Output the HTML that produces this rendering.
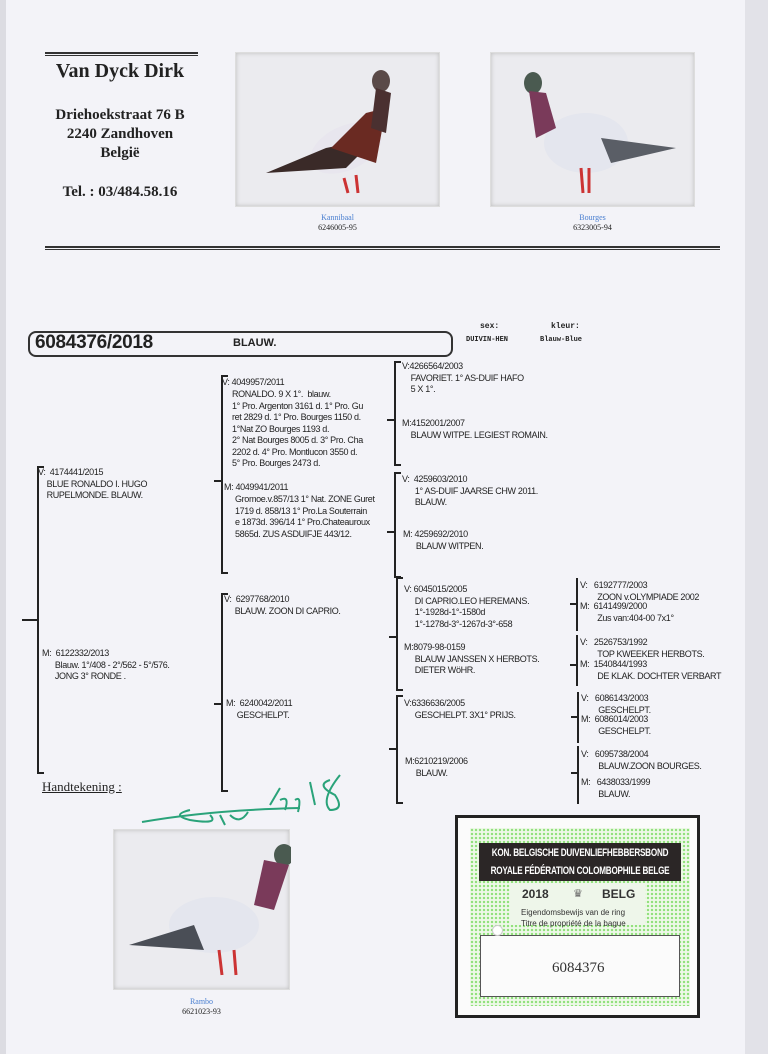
<!DOCTYPE html>
<html><head><meta charset="utf-8"><style>
*{margin:0;padding:0;box-sizing:border-box}
body{width:768px;height:1054px;background:#f3f3f8;position:relative;overflow:hidden;font-family:"Liberation Sans",Arial,sans-serif;color:#222}
.a{position:absolute;white-space:nowrap}
.t{font-size:9px;line-height:11.5px;letter-spacing:-0.35px}
.br{position:absolute;border-left:2px solid #222;border-top:2px solid #222;border-bottom:2px solid #222;width:7px}
.br4{position:absolute;border-left:2px solid #222;width:2px}
.tk{position:absolute;height:2px;background:#222}
.serif{font-family:"Liberation Serif","Times New Roman",serif;font-weight:bold;text-align:center}
.photo{position:absolute;background:#ebebef;box-shadow:0 0 4px #bbb inset;border:1px solid #ddd}
.cap{font-family:"Liberation Serif",serif;font-size:8px;text-align:center;position:absolute;line-height:10px}
</style></head><body>
<div class="a" style="left:0;top:0;width:6px;height:1054px;background:#dcdce2"></div>
<div class="a" style="left:745px;top:0;width:23px;height:1054px;background:#e2e2e8"></div>

<!-- header -->
<div class="a" style="left:45px;top:52px;width:153px;height:4px;border-top:2px solid #333;border-bottom:1px solid #333"></div>
<div class="a serif" style="left:30px;top:60px;width:180px;font-size:20px">Van Dyck Dirk</div>
<div class="a serif" style="left:30px;top:106px;width:180px;font-size:15px;line-height:19px">Driehoekstraat 76 B<br>2240 Zandhoven<br>België</div>
<div class="a serif" style="left:30px;top:184px;width:180px;font-size:15px">Tel. : 03/484.58.16</div>
<div class="a" style="left:45px;top:246px;width:675px;height:4px;border-top:2px solid #333;border-bottom:1px solid #333"></div>

<div class="photo" style="left:235px;top:52px;width:205px;height:155px">
<svg width="205" height="155"><ellipse cx="110" cy="95" rx="38" ry="22" fill="#e8e6ee" transform="rotate(-25 110 95)"/><path d="M30 120 L90 95 L140 85 L110 115 Z" fill="#3a2a28"/><path d="M95 95 L130 60 L150 55 L140 110Z" fill="#6a2a22"/><ellipse cx="145" cy="28" rx="9" ry="11" fill="#5a4a48"/><path d="M140 35 L155 40 L150 80 L135 75Z" fill="#4a3030"/><path d="M108 125 L112 140 M120 122 L122 140" stroke="#c33" stroke-width="3"/></svg></div>
<div class="cap" style="left:235px;top:213px;width:205px"><span style="color:#4a7fd0">Kannibaal</span><br>6246005-95</div>
<div class="photo" style="left:490px;top:52px;width:205px;height:155px">
<svg width="205" height="155"><ellipse cx="95" cy="90" rx="42" ry="30" fill="#e4e6ee"/><path d="M110 85 L185 95 L120 110Z" fill="#5a5e66"/><ellipse cx="42" cy="30" rx="9" ry="11" fill="#4a5a50"/><path d="M38 38 L55 40 L65 75 L45 85Z" fill="#7a3a5a"/><path d="M90 115 L92 140 M98 115 L98 140" stroke="#c33" stroke-width="3"/></svg></div>
<div class="cap" style="left:490px;top:213px;width:205px"><span style="color:#4a7fd0">Bourges</span><br>6323005-94</div>

<!-- title box -->
<div class="a" style="left:28px;top:331px;width:425px;height:26px;border:2px solid #333;border-radius:8px"></div>
<div class="a" style="left:35px;top:332px;font-size:19px;font-weight:bold;letter-spacing:-0.3px">6084376/2018</div>
<div class="a" style="left:233px;top:337px;font-size:11px;font-weight:bold">BLAUW.</div>
<div class="a" style="left:480px;top:322px;font-family:'Liberation Mono',monospace;font-size:8px;font-weight:bold">sex:</div>
<div class="a" style="left:466px;top:336px;font-family:'Liberation Mono',monospace;font-size:7px;font-weight:bold">DUIVIN-HEN</div>
<div class="a" style="left:551px;top:322px;font-family:'Liberation Mono',monospace;font-size:8px;font-weight:bold">kleur:</div>
<div class="a" style="left:540px;top:336px;font-family:'Liberation Mono',monospace;font-size:7px;font-weight:bold">Blauw-Blue</div>

<!-- gen1 -->
<div class="br" style="left:37px;top:466px;height:308px"></div>
<div class="tk" style="left:22px;top:619px;width:15px"></div>
<div class="a t" style="left:38px;top:467px">V:&nbsp;&nbsp;4174441/2015<br>&nbsp;&nbsp;&nbsp;&nbsp;BLUE RONALDO I. HUGO<br>&nbsp;&nbsp;&nbsp;&nbsp;RUPELMONDE. BLAUW.</div>
<div class="a t" style="left:42px;top:648px">M:&nbsp;&nbsp;6122332/2013<br>&nbsp;&nbsp;&nbsp;&nbsp;&nbsp;&nbsp;Blauw. 1°/408 - 2°/562 - 5°/576.<br>&nbsp;&nbsp;&nbsp;&nbsp;&nbsp;&nbsp;JONG 3° RONDE .</div>

<!-- gen2 -->
<div class="br" style="left:221px;top:375px;height:199px"></div>
<div class="tk" style="left:214px;top:480px;width:8px"></div>
<div class="a t" style="left:222px;top:377px">V: 4049957/2011</div>
<div class="a t" style="left:232px;top:389px">RONALDO. 9 X 1°.&nbsp;&nbsp;blauw.<br>1° Pro. Argenton 3161 d. 1° Pro. Gu<br>ret 2829 d. 1° Pro. Bourges 1150 d.<br>1°Nat ZO Bourges 1193 d.<br>2° Nat Bourges 8005 d. 3° Pro. Cha<br>2202 d. 4° Pro. Montlucon 3550 d.<br>5° Pro. Bourges 2473 d.</div>
<div class="a t" style="left:224px;top:482px">M: 4049941/2011</div>
<div class="a t" style="left:235px;top:494px">Gromoe.v.857/13 1° Nat. ZONE Guret<br>1719 d. 858/13 1° Pro.La Souterrain<br>e 1873d. 396/14 1° Pro.Chateauroux<br>5865d. ZUS ASDUIFJE 443/12.</div>

<div class="br" style="left:221px;top:593px;height:199px"></div>
<div class="tk" style="left:214px;top:703px;width:8px"></div>
<div class="a t" style="left:224px;top:594px">V:&nbsp;&nbsp;6297768/2010<br>&nbsp;&nbsp;&nbsp;&nbsp;&nbsp;BLAUW. ZOON DI CAPRIO.</div>
<div class="a t" style="left:226px;top:698px">M:&nbsp;&nbsp;6240042/2011<br>&nbsp;&nbsp;&nbsp;&nbsp;&nbsp;GESCHELPT.</div>

<!-- gen3 -->
<div class="br" style="left:394px;top:361px;height:105px"></div>
<div class="tk" style="left:387px;top:419px;width:8px"></div>
<div class="a t" style="left:402px;top:361px">V:4266564/2003<br>&nbsp;&nbsp;&nbsp;&nbsp;FAVORIET. 1° AS-DUIF HAFO<br>&nbsp;&nbsp;&nbsp;&nbsp;5 X 1°.</div>
<div class="a t" style="left:402px;top:418px">M:4152001/2007<br>&nbsp;&nbsp;&nbsp;&nbsp;BLAUW WITPE. LEGIEST ROMAIN.</div>
<div class="br" style="left:394px;top:472px;height:106px"></div>
<div class="tk" style="left:387px;top:531px;width:8px"></div>
<div class="a t" style="left:402px;top:474px">V:&nbsp;&nbsp;4259603/2010<br>&nbsp;&nbsp;&nbsp;&nbsp;&nbsp;&nbsp;1° AS-DUIF JAARSE CHW 2011.<br>&nbsp;&nbsp;&nbsp;&nbsp;&nbsp;&nbsp;BLAUW.</div>
<div class="a t" style="left:403px;top:529px">M:&nbsp;4259692/2010<br>&nbsp;&nbsp;&nbsp;&nbsp;&nbsp;&nbsp;BLAUW WITPEN.</div>

<div class="br" style="left:396px;top:577px;height:114px"></div>
<div class="tk" style="left:389px;top:636px;width:8px"></div>
<div class="a t" style="left:404px;top:584px">V:&nbsp;6045015/2005<br>&nbsp;&nbsp;&nbsp;&nbsp;&nbsp;DI CAPRIO.LEO HEREMANS.<br>&nbsp;&nbsp;&nbsp;&nbsp;&nbsp;1°-1928d-1°-1580d<br>&nbsp;&nbsp;&nbsp;&nbsp;&nbsp;1°-1278d-3°-1267d-3°-658</div>
<div class="a t" style="left:404px;top:642px">M:8079-98-0159<br>&nbsp;&nbsp;&nbsp;&nbsp;&nbsp;BLAUW JANSSEN X HERBOTS.<br>&nbsp;&nbsp;&nbsp;&nbsp;&nbsp;DIETER WöHR.</div>
<div class="br" style="left:396px;top:695px;height:109px"></div>
<div class="tk" style="left:389px;top:748px;width:8px"></div>
<div class="a t" style="left:404px;top:698px">V:6336636/2005<br>&nbsp;&nbsp;&nbsp;&nbsp;&nbsp;GESCHELPT. 3X1° PRIJS.</div>
<div class="a t" style="left:405px;top:756px">M:6210219/2006<br>&nbsp;&nbsp;&nbsp;&nbsp;&nbsp;BLAUW.</div>

<!-- gen4 -->
<div class="br4" style="left:576px;top:578px;height:53px"></div><div class="tk" style="left:570px;top:603px;width:7px"></div>
<div class="a t" style="left:580px;top:580px">V:&nbsp;&nbsp;&nbsp;6192777/2003<br>&nbsp;&nbsp;&nbsp;&nbsp;&nbsp;&nbsp;&nbsp;&nbsp;ZOON v.OLYMPIADE 2002</div>
<div class="a t" style="left:580px;top:601px">M:&nbsp;&nbsp;6141499/2000<br>&nbsp;&nbsp;&nbsp;&nbsp;&nbsp;&nbsp;&nbsp;&nbsp;Zus van:404-00 7x1°</div>
<div class="br4" style="left:576px;top:635px;height:51px"></div><div class="tk" style="left:570px;top:664px;width:7px"></div>
<div class="a t" style="left:580px;top:637px">V:&nbsp;&nbsp;&nbsp;2526753/1992<br>&nbsp;&nbsp;&nbsp;&nbsp;&nbsp;&nbsp;&nbsp;&nbsp;TOP KWEEKER HERBOTS.</div>
<div class="a t" style="left:580px;top:659px">M:&nbsp;&nbsp;1540844/1993<br>&nbsp;&nbsp;&nbsp;&nbsp;&nbsp;&nbsp;&nbsp;&nbsp;DE KLAK. DOCHTER VERBART</div>
<div class="br4" style="left:577px;top:692px;height:51px"></div><div class="tk" style="left:571px;top:716px;width:7px"></div>
<div class="a t" style="left:581px;top:693px">V:&nbsp;&nbsp;&nbsp;6086143/2003<br>&nbsp;&nbsp;&nbsp;&nbsp;&nbsp;&nbsp;&nbsp;&nbsp;GESCHELPT.</div>
<div class="a t" style="left:581px;top:714px">M:&nbsp;&nbsp;6086014/2003<br>&nbsp;&nbsp;&nbsp;&nbsp;&nbsp;&nbsp;&nbsp;&nbsp;GESCHELPT.</div>
<div class="br4" style="left:577px;top:746px;height:58px"></div><div class="tk" style="left:571px;top:772px;width:7px"></div>
<div class="a t" style="left:581px;top:749px">V:&nbsp;&nbsp;&nbsp;6095738/2004<br>&nbsp;&nbsp;&nbsp;&nbsp;&nbsp;&nbsp;&nbsp;&nbsp;BLAUW.ZOON BOURGES.</div>
<div class="a t" style="left:581px;top:777px">M:&nbsp;&nbsp;&nbsp;6438033/1999<br>&nbsp;&nbsp;&nbsp;&nbsp;&nbsp;&nbsp;&nbsp;&nbsp;BLAUW.</div>

<!-- signature -->
<div class="a" style="left:42px;top:779px;font-family:'Liberation Serif',serif;font-size:13px;text-decoration:underline">Handtekening :</div>
<svg class="a" style="left:130px;top:770px" width="230" height="60"><g fill="none" stroke="#2aa37a" stroke-width="2"><path d="M12 52 Q80 40 170 38"/><path d="M60 40 Q40 45 60 50 Q90 55 80 45 M90 45 L95 55 M100 45 Q110 55 118 42"/><path d="M140 35 L150 18 M150 30 Q160 25 155 40 M165 30 Q172 25 168 42"/><path d="M180 12 L185 35 M200 10 Q185 15 205 25 Q215 40 200 40 Q190 30 210 5"/></g></svg>

<!-- Rambo -->
<div class="photo" style="left:113px;top:829px;width:177px;height:161px">
<svg width="177" height="161"><ellipse cx="100" cy="95" rx="45" ry="28" fill="#e4e6ee"/><path d="M15 115 L80 95 L90 120Z" fill="#4a4e56"/><ellipse cx="170" cy="25" rx="10" ry="11" fill="#4a5a50"/><path d="M150 30 L175 35 L160 80 L140 75Z" fill="#7a3a5a"/><path d="M105 120 L108 145 M120 120 L122 145" stroke="#c33" stroke-width="3"/></svg></div>
<div class="cap" style="left:113px;top:997px;width:177px"><span style="color:#4a7fd0">Rambo</span><br>6621023-93</div>

<!-- certificate -->
<div class="a" style="left:455px;top:815px;width:245px;height:203px;border:3px solid #222;background:#fbfbfb"></div>
<div class="a" style="left:470px;top:828px;width:220px;height:178px;background:radial-gradient(#8fe07a 1px,transparent 1.4px) 0 0/4px 4px,#eef8e8"></div>
<div class="a" style="left:479px;top:843px;width:202px;height:38px;background:#2b2626;overflow:hidden"></div>
<div class="a" style="left:430px;top:844px;width:300px;color:#fff;font-weight:bold;font-size:11px;line-height:18px;text-align:center;letter-spacing:-0.3px;transform:scaleX(0.74);transform-origin:150px 0">KON. BELGISCHE DUIVENLIEFHEBBERSBOND<br>ROYALE FÉDÉRATION COLOMBOPHILE BELGE</div>
<div class="a" style="left:510px;top:883px;width:135px;height:42px;background:#eef6ea"></div>
<div class="a" style="left:522px;top:887px;font-size:12px;font-weight:bold;color:#333">2018</div>
<div class="a" style="left:573px;top:887px;font-size:11px;color:#666">♛</div>
<div class="a" style="left:602px;top:887px;font-size:12px;font-weight:bold;color:#333">BELG</div>
<div class="a" style="left:521px;top:907px;font-size:8px;line-height:11px;color:#333">Eigendomsbewijs van de ring<br>Titre de propriété de la bague</div>
<div class="a" style="left:480px;top:935px;width:200px;height:62px;background:#fbfbfb;border:1px solid #555"></div>
<div class="a" style="left:492px;top:925px;width:11px;height:11px;border-radius:50%;background:#fff;border:1px solid #ccc"></div>
<div class="a" style="left:552px;top:960px;font-family:'Liberation Serif',serif;font-size:15px;color:#333">6084376</div>
</body></html>
